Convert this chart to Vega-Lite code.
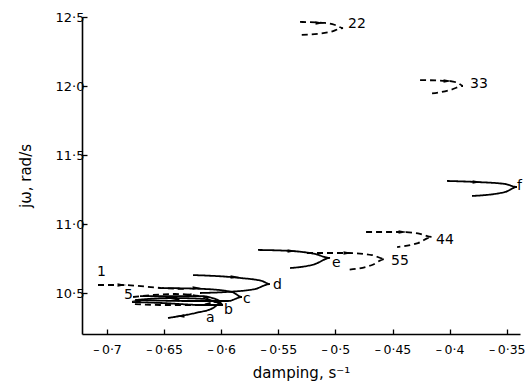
{
  "$schema": "https://vega.github.io/schema/vega-lite/v6.json",
  "width": 438,
  "height": 317,
  "autosize": {"type": "none"},
  "padding": {"left": 82, "top": 17, "right": 6, "bottom": 50},
  "background": "white",
  "config": {
    "view": {"stroke": null},
    "font": "DejaVu Sans",
    "axis": {"grid": false, "domainColor": "black", "domainWidth": 1.6, "tickColor": "black", "tickWidth": 1.3, "labelColor": "black", "titleColor": "black", "labelFontSize": 13, "titleFontSize": 15, "titleFontWeight": "normal", "labelFont": "DejaVu Sans", "titleFont": "DejaVu Sans"}
  },
  "datasets": {
    "paths": [
      {"path": "a", "style": "solid", "ord": 1, "x": -0.6755, "y": 10.449},
      {"path": "a", "style": "solid", "ord": 2, "x": -0.6448, "y": 10.464},
      {"path": "a", "style": "solid", "ord": 3, "x": -0.6142, "y": 10.457},
      {"path": "a", "style": "solid", "ord": 4, "x": -0.6002, "y": 10.428},
      {"path": "a", "style": "solid", "ord": 5, "x": -0.6072, "y": 10.391},
      {"path": "a", "style": "solid", "ord": 6, "x": -0.6229, "y": 10.355},
      {"path": "a", "style": "solid", "ord": 7, "x": -0.6466, "y": 10.319},
      {"path": "b", "style": "solid", "ord": 1, "x": -0.6711, "y": 10.478},
      {"path": "b", "style": "solid", "ord": 2, "x": -0.6186, "y": 10.478},
      {"path": "b", "style": "solid", "ord": 3, "x": -0.6028, "y": 10.449},
      {"path": "b", "style": "solid", "ord": 4, "x": -0.5984, "y": 10.413},
      {"path": "b", "style": "solid", "ord": 5, "x": -0.6142, "y": 10.413},
      {"path": "b", "style": "solid", "ord": 6, "x": -0.6536, "y": 10.428},
      {"path": "b", "style": "solid", "ord": 7, "x": -0.6781, "y": 10.435},
      {"path": "c", "style": "solid", "ord": 1, "x": -0.6518, "y": 10.536},
      {"path": "c", "style": "solid", "ord": 2, "x": -0.6142, "y": 10.529},
      {"path": "c", "style": "solid", "ord": 3, "x": -0.5905, "y": 10.507},
      {"path": "c", "style": "solid", "ord": 4, "x": -0.5818, "y": 10.471},
      {"path": "c", "style": "solid", "ord": 5, "x": -0.5940, "y": 10.442},
      {"path": "c", "style": "solid", "ord": 6, "x": -0.6273, "y": 10.442},
      {"path": "c", "style": "solid", "ord": 7, "x": -0.6711, "y": 10.449},
      {"path": "d", "style": "solid", "ord": 1, "x": -0.6247, "y": 10.630},
      {"path": "d", "style": "solid", "ord": 2, "x": -0.5835, "y": 10.609},
      {"path": "d", "style": "solid", "ord": 3, "x": -0.5643, "y": 10.587},
      {"path": "d", "style": "solid", "ord": 4, "x": -0.5573, "y": 10.565},
      {"path": "d", "style": "solid", "ord": 5, "x": -0.5704, "y": 10.529},
      {"path": "d", "style": "solid", "ord": 6, "x": -0.5967, "y": 10.507},
      {"path": "d", "style": "solid", "ord": 7, "x": -0.6186, "y": 10.500},
      {"path": "e", "style": "solid", "ord": 1, "x": -0.5678, "y": 10.812},
      {"path": "e", "style": "solid", "ord": 2, "x": -0.5380, "y": 10.804},
      {"path": "e", "style": "solid", "ord": 3, "x": -0.5179, "y": 10.783},
      {"path": "e", "style": "solid", "ord": 4, "x": -0.5047, "y": 10.754},
      {"path": "e", "style": "solid", "ord": 5, "x": -0.5179, "y": 10.710},
      {"path": "e", "style": "solid", "ord": 6, "x": -0.5397, "y": 10.681},
      {"path": "f", "style": "solid", "ord": 1, "x": -0.4023, "y": 11.312},
      {"path": "f", "style": "solid", "ord": 2, "x": -0.3760, "y": 11.304},
      {"path": "f", "style": "solid", "ord": 3, "x": -0.3515, "y": 11.290},
      {"path": "f", "style": "solid", "ord": 4, "x": -0.3410, "y": 11.268},
      {"path": "f", "style": "solid", "ord": 5, "x": -0.3515, "y": 11.232},
      {"path": "f", "style": "solid", "ord": 6, "x": -0.3804, "y": 11.203},
      {"path": "1", "style": "dashed", "ord": 1, "x": -0.7079, "y": 10.558},
      {"path": "1", "style": "dashed", "ord": 2, "x": -0.6869, "y": 10.558},
      {"path": "1", "style": "dashed", "ord": 3, "x": -0.6518, "y": 10.536},
      {"path": "1", "style": "dashed", "ord": 4, "x": -0.6317, "y": 10.529},
      {"path": "5", "style": "dashed", "ord": 1, "x": -0.6772, "y": 10.471},
      {"path": "5", "style": "dashed", "ord": 2, "x": -0.6405, "y": 10.493},
      {"path": "5", "style": "dashed", "ord": 3, "x": -0.6142, "y": 10.471},
      {"path": "5", "style": "dashed", "ord": 4, "x": -0.6045, "y": 10.435},
      {"path": "5", "style": "dashed", "ord": 5, "x": -0.6186, "y": 10.413},
      {"path": "5", "style": "dashed", "ord": 6, "x": -0.6536, "y": 10.413},
      {"path": "5", "style": "dashed", "ord": 7, "x": -0.6772, "y": 10.420},
      {"path": "55", "style": "dashed", "ord": 1, "x": -0.5249, "y": 10.790},
      {"path": "55", "style": "dashed", "ord": 2, "x": -0.4890, "y": 10.790},
      {"path": "55", "style": "dashed", "ord": 3, "x": -0.4679, "y": 10.775},
      {"path": "55", "style": "dashed", "ord": 4, "x": -0.4566, "y": 10.746},
      {"path": "55", "style": "dashed", "ord": 5, "x": -0.4679, "y": 10.703},
      {"path": "55", "style": "dashed", "ord": 6, "x": -0.4898, "y": 10.667},
      {"path": "44", "style": "dashed", "ord": 1, "x": -0.4732, "y": 10.942},
      {"path": "44", "style": "dashed", "ord": 2, "x": -0.4408, "y": 10.942},
      {"path": "44", "style": "dashed", "ord": 3, "x": -0.4259, "y": 10.928},
      {"path": "44", "style": "dashed", "ord": 4, "x": -0.4154, "y": 10.906},
      {"path": "44", "style": "dashed", "ord": 5, "x": -0.4277, "y": 10.862},
      {"path": "44", "style": "dashed", "ord": 6, "x": -0.4460, "y": 10.833},
      {"path": "33", "style": "dashed", "ord": 1, "x": -0.4259, "y": 12.043},
      {"path": "33", "style": "dashed", "ord": 2, "x": -0.4014, "y": 12.036},
      {"path": "33", "style": "dashed", "ord": 3, "x": -0.3926, "y": 12.022},
      {"path": "33", "style": "dashed", "ord": 4, "x": -0.3883, "y": 12.000},
      {"path": "33", "style": "dashed", "ord": 5, "x": -0.3996, "y": 11.971},
      {"path": "33", "style": "dashed", "ord": 6, "x": -0.4189, "y": 11.942},
      {"path": "22", "style": "dashed", "ord": 1, "x": -0.5310, "y": 12.464},
      {"path": "22", "style": "dashed", "ord": 2, "x": -0.5091, "y": 12.457},
      {"path": "22", "style": "dashed", "ord": 3, "x": -0.5003, "y": 12.442},
      {"path": "22", "style": "dashed", "ord": 4, "x": -0.4933, "y": 12.420},
      {"path": "22", "style": "dashed", "ord": 5, "x": -0.5047, "y": 12.391},
      {"path": "22", "style": "dashed", "ord": 6, "x": -0.5310, "y": 12.370}
    ],
    "arrows": [
      {"x": -0.5135, "y": 12.457, "dir": "right"},
      {"x": -0.4014, "y": 12.036, "dir": "right"},
      {"x": -0.3760, "y": 11.304, "dir": "right"},
      {"x": -0.4408, "y": 10.942, "dir": "right"},
      {"x": -0.4890, "y": 10.790, "dir": "right"},
      {"x": -0.5380, "y": 10.804, "dir": "right"},
      {"x": -0.5879, "y": 10.616, "dir": "right"},
      {"x": -0.6212, "y": 10.536, "dir": "right"},
      {"x": -0.6869, "y": 10.558, "dir": "right"},
      {"x": -0.6299, "y": 10.486, "dir": "left"},
      {"x": -0.6405, "y": 10.449, "dir": "left"},
      {"x": -0.6746, "y": 10.442, "dir": "left"},
      {"x": -0.6361, "y": 10.333, "dir": "left"}
    ],
    "labels": [
      {"x": -0.4890, "y": 12.449, "label": "22"},
      {"x": -0.3821, "y": 12.014, "label": "33"},
      {"x": -0.3410, "y": 11.275, "label": "f"},
      {"x": -0.4119, "y": 10.884, "label": "44"},
      {"x": -0.4513, "y": 10.732, "label": "55"},
      {"x": -0.5030, "y": 10.717, "label": "e"},
      {"x": -0.5546, "y": 10.558, "label": "d"},
      {"x": -0.5809, "y": 10.457, "label": "c"},
      {"x": -0.5975, "y": 10.377, "label": "b"},
      {"x": -0.6133, "y": 10.319, "label": "a"},
      {"x": -0.6851, "y": 10.486, "label": "5"},
      {"x": -0.7088, "y": 10.652, "label": "1"}
    ]
  },
  "layer": [
    {
      "data": {"name": "paths"},
      "mark": {"type": "line", "color": "black", "strokeWidth": 1.8, "interpolate": "monotone"},
      "encoding": {
        "x": {"field": "x", "type": "quantitative", "scale": {"domain": [-0.7219, -0.3384], "nice": false, "zero": false},
          "axis": {"values": [-0.7, -0.65, -0.6, -0.55, -0.5, -0.45, -0.4, -0.35], "tickSize": -5, "labelPadding": 14, "labelFontSize": 12.5, "labelExpr": "'\u2013\u2009' + replace(format(abs(datum.value), '.2~f'), '.', '\u00b7')", "title": "damping, s\u207b\u00b9", "titlePadding": 10}},
        "y": {"field": "y", "type": "quantitative", "scale": {"domain": [10.203, 12.5], "nice": false, "zero": false},
          "axis": {"values": [10.5, 11, 11.5, 12, 12.5], "tickSize": -5, "labelPadding": 3, "labelExpr": "replace(format(datum.value, '.1f'), '.', '\u00b7')", "title": "j\u03c9, rad/s", "titlePadding": 22}},
        "detail": {"field": "path"},
        "order": {"field": "ord", "type": "quantitative"},
        "strokeDash": {"field": "style", "type": "nominal", "scale": {"domain": ["solid", "dashed"], "range": [[1, 0], [6, 4]]}, "legend": null}
      }
    },
    {
      "data": {"name": "arrows"},
      "mark": {"type": "point", "filled": true, "color": "black", "opacity": 1, "size": 80},
      "encoding": {
        "x": {"field": "x", "type": "quantitative"},
        "y": {"field": "y", "type": "quantitative"},
        "shape": {"field": "dir", "type": "nominal", "scale": {"domain": ["right", "left"], "range": ["M-1,-0.4L1,0L-1,0.4Z", "M1,-0.4L-1,0L1,0.4Z"]}, "legend": null}
      }
    },
    {
      "data": {"name": "labels"},
      "mark": {"type": "text", "align": "left", "baseline": "middle", "fontSize": 14, "color": "black", "font": "DejaVu Sans"},
      "encoding": {
        "x": {"field": "x", "type": "quantitative"},
        "y": {"field": "y", "type": "quantitative"},
        "text": {"field": "label"}
      }
    }
  ]
}
